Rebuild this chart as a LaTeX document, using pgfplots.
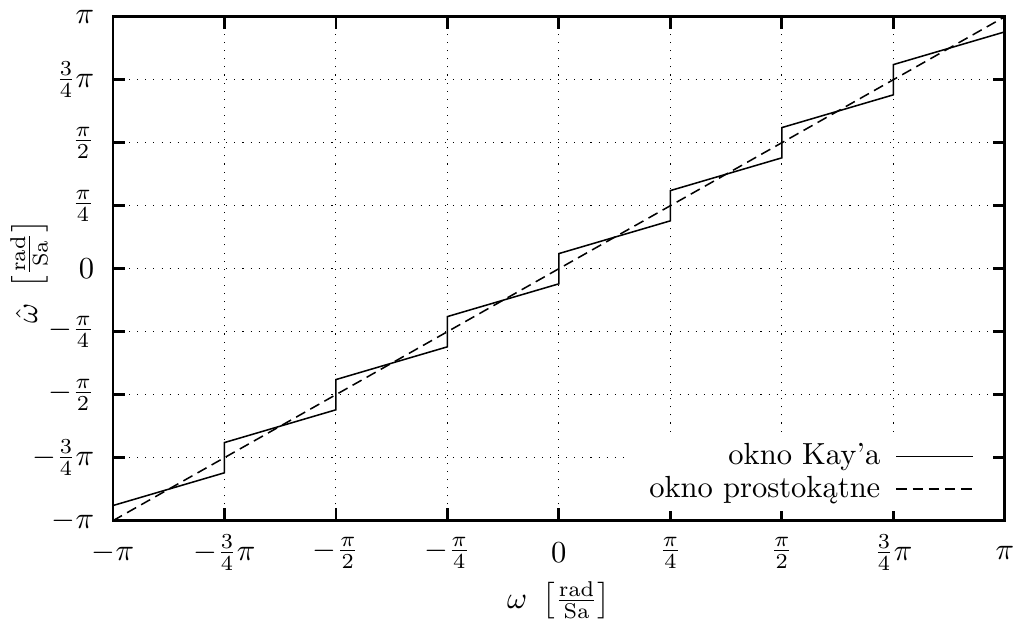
\documentclass[border=0pt]{standalone}
\usepackage{pgfplots}
\pgfplotsset{compat=1.18}

\begin{document}
\begin{tikzpicture}
\begin{axis}[
    scale only axis,
    width=292pt, height=165pt,
    xmin=-4, xmax=4, ymin=-4, ymax=4,
    xtick={-4,-3,...,4}, ytick={-4,-3,...,4},
    xticklabels={$-\pi$,$-\frac{3}{4}\pi$,$-\frac{\pi}{2}$,$-\frac{\pi}{4}$,$0$,$\frac{\pi}{4}$,$\frac{\pi}{2}$,$\frac{3}{4}\pi$,$\pi$},
    yticklabels={$-\pi$,$-\frac{3}{4}\pi$,$-\frac{\pi}{2}$,$-\frac{\pi}{4}$,$0$,$\frac{\pi}{4}$,$\frac{\pi}{2}$,$\frac{3}{4}\pi$,$\pi$},
    xticklabel style={anchor=center, inner xsep=0pt, yshift=-10.5pt},
    yticklabel style={anchor=east, xshift=-2.6pt},
    tick align=inside,
    major tick length=4pt,
    tick style={line width=0.9pt, black},
    axis line style={line width=0.9pt},
    grid=major,
    grid style={black, line width=0.35pt, dash pattern=on 0.35pt off 2.3pt},
    xlabel={$\omega\ \left[\frac{\mathrm{rad}}{\mathrm{Sa}}\right]$},
    ylabel={$\hat{\omega}\ \left[\frac{\mathrm{rad}}{\mathrm{Sa}}\right]$},
    xlabel style={at={([yshift=-26pt]axis description cs:0.5,0)}, anchor=center},
    ylabel style={at={([xshift=-27.5pt,yshift=-1pt]axis description cs:0,0.5)}, anchor=center},
    legend style={draw=none, fill=white, at={([xshift=-4pt,yshift=3pt]axis description cs:1,0)},
        anchor=south east, inner xsep=6pt, inner ysep=1pt, row sep=-1.8pt, column sep=3pt},
    legend cell align=right,
    legend plot pos=right,
    legend image code/.code={\draw[#1] (0cm,0cm) -- (0.88cm,0cm);},
]
\addplot[black, line width=0.5pt] coordinates {
    (-4,-3.76) (-3,-3.24) (-3,-2.76) (-2,-2.24) (-2,-1.76) (-1,-1.24)
    (-1,-0.76) (0,-0.24) (0,0.24) (1,0.76) (1,1.24) (2,1.76)
    (2,2.24) (3,2.76) (3,3.24) (4,3.76)
};
\addlegendentry{okno Kay'a}
\addplot[black, line width=0.5pt, dash pattern=on 3.4pt off 1.9pt] coordinates {
    (-4,-4) (4,4)
};
\addlegendentry{okno prostokątne}
\end{axis}
\path ([yshift=4.9pt]current axis.north);
\end{tikzpicture}
\end{document}
